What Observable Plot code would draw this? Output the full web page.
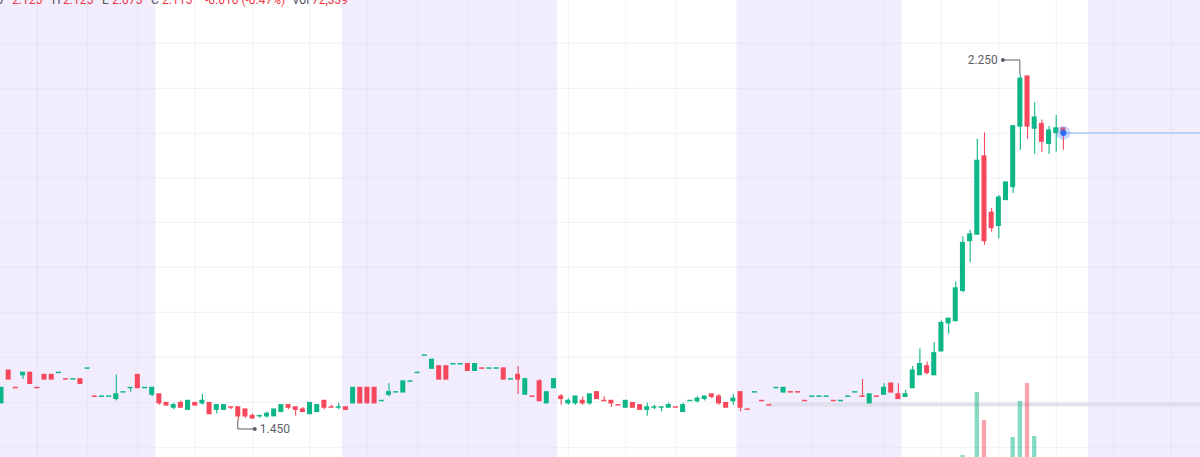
<!DOCTYPE html>
<html><head><meta charset="utf-8">
<script src="https://cdn.jsdelivr.net/npm/d3@7"></script>
<script src="https://cdn.jsdelivr.net/npm/@observablehq/plot@0.6"></script>
<style>
html,body{margin:0;padding:0;background:#fff;}
#wrap{position:relative;width:1200px;height:457px;overflow:hidden;font-family:Roboto,"Noto Sans",sans-serif;background:#fff;}
#wrap svg{position:absolute;left:0;top:0;}
#hdr{position:absolute;left:0;top:-8px;width:1200px;height:16px;font-size:12px;line-height:16px;white-space:nowrap;}
#hdr span{position:absolute;top:0;}
.lab{color:#50535e;}
.val{color:#f23645;}
</style></head>
<body><div id="wrap"><div id="main"></div><div id="vol"></div><div id="hdr"></div></div>
<script>
// ---- data ----
const open = [
1.490,1.565,1.525,1.555,1.560,1.525,1.555,1.555,1.560,1.545,
1.545,1.545,1.570,1.505,1.505,1.505,1.500,1.515,1.525,1.555,
1.525,1.510,1.510,1.490,1.480,1.490,1.475,1.490,1.490,1.490,
1.475,1.475,1.480,1.480,1.475,1.460,1.460,1.460,1.460,1.470,
1.485,1.480,1.475,1.465,1.470,1.495,1.480,1.480,1.480,1.490,
1.525,1.525,1.525,1.495,1.510,1.515,1.515,1.540,1.560,1.600,
1.570,1.575,1.575,1.580,1.580,1.580,1.565,1.570,1.570,1.570,
1.570,1.545,1.555,1.510,1.505,1.540,1.490,1.525,1.505,1.490,
1.490,1.495,1.490,1.515,1.495,1.495,1.485,1.480,1.490,1.485,
1.475,1.480,1.480,1.480,1.480,1.470,1.495,1.495,1.500,1.510,
1.505,1.490,1.495,1.515,1.475,1.515,1.495,1.485,1.525,1.515,
1.515,1.515,1.495,1.505,1.505,1.505,1.495,1.495,1.505,1.515,
1.505,1.490,1.505,1.510,1.535,1.510,1.505,1.525,1.555,1.575,
1.555,1.610,1.675,1.680,1.750,1.865,1.880,2.060,1.930,1.900,
1.960,1.990,2.130,2.245,2.125,2.135,2.090,2.115,2.125];
const high = [
1.525,1.565,1.525,1.560,1.560,1.525,1.555,1.555,1.560,1.545,
1.545,1.545,1.570,1.505,1.505,1.505,1.555,1.515,1.525,1.555,
1.525,1.525,1.510,1.490,1.490,1.495,1.495,1.490,1.510,1.490,
1.485,1.485,1.480,1.480,1.475,1.465,1.460,1.470,1.475,1.485,
1.485,1.480,1.480,1.490,1.485,1.495,1.485,1.490,1.480,1.525,
1.525,1.525,1.525,1.495,1.535,1.515,1.540,1.540,1.560,1.600,
1.590,1.575,1.575,1.580,1.580,1.580,1.580,1.570,1.570,1.570,
1.570,1.545,1.575,1.545,1.505,1.545,1.515,1.545,1.510,1.500,
1.505,1.505,1.510,1.515,1.505,1.495,1.485,1.495,1.490,1.485,
1.490,1.485,1.480,1.490,1.480,1.490,1.495,1.505,1.505,1.510,
1.510,1.490,1.510,1.515,1.475,1.515,1.495,1.485,1.525,1.525,
1.515,1.515,1.495,1.505,1.505,1.505,1.495,1.495,1.505,1.515,
1.545,1.510,1.505,1.535,1.535,1.535,1.520,1.575,1.615,1.585,
1.630,1.680,1.685,1.770,1.875,1.890,2.100,2.115,1.940,1.970,
2.000,2.130,2.250,2.245,2.185,2.145,2.130,2.155,2.125];
const low = [
1.490,1.545,1.525,1.545,1.535,1.525,1.545,1.545,1.560,1.545,
1.545,1.535,1.570,1.505,1.505,1.505,1.495,1.515,1.515,1.525,
1.525,1.505,1.485,1.485,1.475,1.480,1.475,1.485,1.485,1.465,
1.465,1.475,1.475,1.450,1.455,1.455,1.455,1.455,1.460,1.470,
1.475,1.460,1.470,1.465,1.470,1.475,1.480,1.475,1.475,1.490,
1.490,1.490,1.490,1.495,1.505,1.515,1.515,1.540,1.560,1.600,
1.570,1.545,1.545,1.580,1.580,1.565,1.565,1.570,1.570,1.570,
1.545,1.545,1.510,1.510,1.505,1.495,1.490,1.525,1.485,1.485,
1.485,1.485,1.485,1.500,1.495,1.480,1.485,1.480,1.480,1.475,
1.460,1.475,1.470,1.480,1.480,1.470,1.495,1.490,1.495,1.500,
1.485,1.480,1.485,1.470,1.475,1.515,1.495,1.485,1.525,1.515,
1.515,1.515,1.495,1.505,1.505,1.505,1.495,1.495,1.505,1.515,
1.505,1.490,1.505,1.510,1.515,1.500,1.505,1.525,1.555,1.555,
1.555,1.610,1.650,1.680,1.745,1.815,1.880,1.855,1.885,1.870,
1.960,1.975,2.075,2.100,2.065,2.070,2.065,2.070,2.075];
const close = [
1.525,1.545,1.525,1.560,1.535,1.525,1.545,1.545,1.560,1.545,
1.545,1.535,1.570,1.505,1.505,1.505,1.510,1.515,1.525,1.525,
1.525,1.525,1.490,1.485,1.485,1.480,1.495,1.485,1.495,1.465,
1.485,1.485,1.480,1.460,1.460,1.455,1.460,1.465,1.475,1.485,
1.480,1.475,1.470,1.490,1.485,1.480,1.480,1.480,1.475,1.525,
1.490,1.490,1.490,1.495,1.515,1.515,1.540,1.540,1.560,1.600,
1.590,1.545,1.545,1.580,1.580,1.565,1.580,1.570,1.570,1.570,
1.545,1.545,1.545,1.545,1.505,1.495,1.515,1.545,1.500,1.495,
1.505,1.490,1.510,1.500,1.495,1.490,1.485,1.495,1.480,1.475,
1.480,1.480,1.480,1.485,1.480,1.485,1.495,1.500,1.505,1.505,
1.490,1.480,1.500,1.480,1.475,1.515,1.495,1.485,1.525,1.525,
1.515,1.515,1.495,1.505,1.505,1.505,1.495,1.495,1.505,1.515,
1.505,1.510,1.505,1.525,1.515,1.500,1.510,1.565,1.580,1.560,
1.605,1.675,1.685,1.755,1.860,1.880,2.050,1.865,1.895,1.965,
2.000,2.130,2.240,2.130,2.150,2.095,2.120,2.125,2.115];
// candle colour as seen (G = up, R = down)
const candleDir =
 "GRRGRRRRGR"+"GRGRGGGGGR"+"GGRRGRGRGR"+"GGRRRRGGGG"+"RRRGGRRGRG"+
 "RRRGGGGGGG"+"GRRGGRGRGG"+"RGRGRRGGRG"+"GRGRRRRGRR"+"GGGGRGGGGR"+
 "RRGRRGRRGG"+"RRRGGGRGGG"+"RGRGRRGGGR"+"GGGGGGGRRG"+"GGGRGRGGR";
// volumes of the bars that reach into view (candle index, shares)
const volIndex = [134, 136, 137, 141, 142, 143, 144];
const volValue = [450000, 1080000, 800000, 630000, 990000, 1170000, 640000];
// shaded sessions (first and last candle index)
const shadedStart = [-2, 48, 103, 152];
const shadedEnd   = [21, 77, 125, 170];
// grid
const gridPrices = [2.322, 2.218, 2.114, 2.011, 1.908, 1.804, 1.700, 1.596, 1.492, 1.387];
const gridCandles = [5, 12, 19, 27, 35, 43, 51, 58, 65, 72, 79, 87, 94, 113, 123, 131, 139, 147, 155, 163];
// grey horizontal level
const levelStart = 107, levelPrice = 1.487;
// header (last bar)
const header = {O: "2.125", H: "2.125", L: "2.075", C: "2.115", chg: "-0.010 (-0.47%)", vol: "72,339"};

// ---- chart ----
const W = 1200, H = 457;
const UP = "#0cb687", DN = "#f6475c";
const xDomain = [-0.1394, 167.108];
const yDomain = [1.3644, 2.4211];
const candles = open.map((o, i) => ({i, o, h: high[i], l: low[i], c: close[i], up: candleDir[i] === "G"}));
const bands = shadedStart.map((s, k) => ({s, e: shadedEnd[k]}));
const vols = volIndex.map((i, k) => ({i, v: volValue[k], up: candles[i].up}));
const last = candles.length - 1;

const main = Plot.plot({
  width: W, height: H, margin: 0,
  x: {domain: xDomain, range: [0, W], axis: null},
  y: {domain: yDomain, range: [H, 0], axis: null},
  color: {type: "identity"},
  style: {background: "transparent"},
  marks: [
    Plot.rect(bands, {x1: d => d.s - 0.5, x2: d => d.e + 0.5, y1: () => yDomain[0], y2: () => yDomain[1], fill: "#f1edfd"}),
    Plot.ruleY(gridPrices, {stroke: "#d6d6e4", strokeOpacity: 0.35, strokeWidth: 1}),
    Plot.ruleX(gridCandles, {stroke: "#d6d6e4", strokeOpacity: 0.35, strokeWidth: 1}),
    Plot.ruleY([levelPrice], {x1: () => levelStart, x2: () => xDomain[1], stroke: "#dcdce8", strokeOpacity: 0.8, strokeWidth: 4}),
    Plot.ruleX(candles, {x: "i", y1: "l", y2: "h", stroke: d => d.up ? UP : DN, strokeWidth: 1.1}),
    Plot.rect(candles, {x1: d => d.i - 0.35, x2: d => d.i + 0.35, y1: "o", y2: "c",
      fill: d => d.up ? UP : DN, insetTop: -0.75, insetBottom: -0.75}),
    Plot.ruleY([last], {y: i => close[i], x1: i => i, x2: () => xDomain[1], stroke: "#bcd1f8", strokeWidth: 2}),
    Plot.dot([last], {x: i => i, y: i => close[i], r: 7, fill: "#5e8ff0", fillOpacity: 0.35}),
    Plot.dot([last], {x: i => i, y: i => close[i], r: 3, fill: "#2e6cf0"})
  ]
});
document.getElementById("main").appendChild(main);

// high / low markers using the plot's scales
const sx = main.scale("x"), sy = main.scale("y");
const svg = d3.select(main);
const fmt = d3.format(".3f");
const hiVal = d3.max(high), hiIdx = high.indexOf(hiVal);
const loVal = d3.min(low), loIdx = low.indexOf(loVal);
function marker(idx, v, dy, dx) {
  const x = sx.apply(idx), y = sy.apply(v);
  const g = svg.append("g");
  g.append("path").attr("d", `M${x},${y}V${y + dy}H${x + dx}`).attr("fill", "none").attr("stroke", "#5d606b").attr("stroke-width", 1);
  g.append("circle").attr("cx", x + dx).attr("cy", y + dy).attr("r", 2).attr("fill", "#5d606b");
  g.append("text").attr("x", x + dx + (dx < 0 ? -5 : 5)).attr("y", y + dy).attr("dy", "0.35em")
    .attr("text-anchor", dx < 0 ? "end" : "start").attr("fill", "#5d606b")
    .style("font", "12px Roboto, 'Noto Sans', sans-serif").text(fmt(v));
}
marker(hiIdx, hiVal, -14, -17);
marker(loIdx, loVal, 9, 17);

// volume overlay
const volPlot = Plot.plot({
  width: W, height: H, margin: 0,
  x: {domain: xDomain, range: [0, W], axis: null},
  y: {domain: [0, 5000000], range: [500, 0], axis: null},
  color: {type: "identity"},
  style: {background: "transparent"},
  marks: [
    Plot.rect(vols, {x1: d => d.i - 0.3, x2: d => d.i + 0.3, y1: () => 0, y2: "v", fill: d => d.up ? UP : DN, fillOpacity: 0.5})
  ]
});
document.getElementById("vol").appendChild(volPlot);

// header
const hdrItems = [
  ["O", "lab", -5], [header.O, "val", 12], ["H", "lab", 52], [header.H, "val", 63],
  ["L", "lab", 102], [header.L, "val", 112], ["C", "lab", 151], [header.C, "val", 162],
  [header.chg, "val", 205], ["Vol", "lab", 292], [header.vol, "val", 312]
];
const hdr = document.getElementById("hdr");
for (const [t, cls, x] of hdrItems) {
  const s = document.createElement("span");
  s.className = cls; s.textContent = t; s.style.left = x + "px";
  hdr.appendChild(s);
}
</script></body></html>
